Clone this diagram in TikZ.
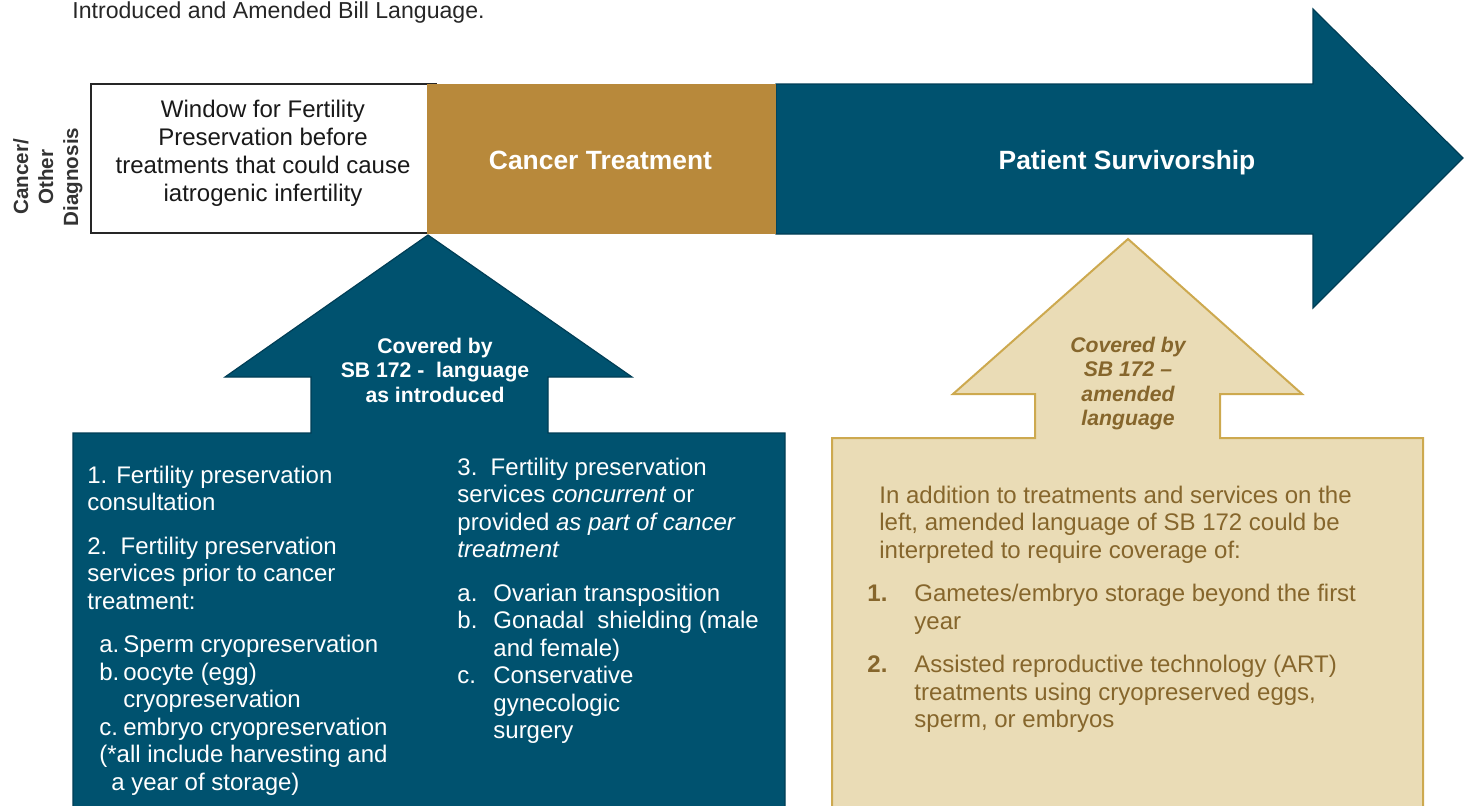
\documentclass[tikz,border=0pt]{standalone}
\usepackage{fontspec}
\setmainfont{Liberation Sans}
\usetikzlibrary{positioning}
\definecolor{sbteal}{HTML}{00526F}
\definecolor{sbtealdark}{HTML}{003E56}
\definecolor{sbgold}{HTML}{B8893B}
\definecolor{sbsand}{HTML}{EADCB6}
\definecolor{sbsandline}{HTML}{CDA94F}
\definecolor{sbbrown}{HTML}{86662C}
\tikzset{
  tealshape/.style = {fill=sbteal, draw=sbtealdark, line width=0.6pt},% arrows and box, left
  sandshape/.style = {fill=sbsand, draw=sbsandline, line width=1pt},% arrow and box, right
  phase/.style = {inner sep=0pt, anchor=base, white,
    font=\fontsize{13.2}{16}\selectfont\bfseries},
  covered/.style = {inner sep=0pt, anchor=base,
    font=\fontsize{10.6}{12.25}\selectfont\bfseries},
  bodytext/.style = {inner sep=0pt, anchor=base west,
    font=\fontsize{12}{13.75}\selectfont}
}
\newcommand{\lbl}[2]{\makebox[#1][l]{#2}}

\begin{document}
\begin{tikzpicture}[x=0.5pt, y=-0.5pt]
  \useasboundingbox (0,0) rectangle (1471,805);
  % time line
  \path[tealshape] (776,84) -- (1313,84) -- (1313,9) -- (1463,158) -- (1313,308)
    -- (1313,234) -- (776,234) -- cycle;
  \draw[line width=1pt, draw=black!85, fill=white] (91,84) rectangle (436,233);
  \fill[sbgold] (427,84) rectangle (776,234);
  % coverage arrows
  \path[tealshape] (428,235) -- (632,377) -- (548,377) -- (548,433) -- (785,433)
    -- (785,812) -- (73,812) -- (73,433) -- (311,433) -- (311,377) -- (225,377) -- cycle;
  \path[sandshape] (1128,239) -- (1302,394) -- (1220,394) -- (1220,438) -- (1423,438)
    -- (1423,812) -- (832,812) -- (832,438) -- (1035,438) -- (1035,394) -- (953,394) -- cycle;

  \node[bodytext, black!85, font=\fontsize{11.55}{14}\selectfont] (title) at (72,18)
    {Introduced and Amended Bill Language.};
  \node[inner sep=0pt, anchor=base, rotate=90, black!80,
    font=\fontsize{10.3}{12.5}\selectfont\bfseries] (diag) at (28,177)
    {\parbox[t]{70pt}{\centering Cancer/\\ Other\\ Diagnosis}};
  \node[inner sep=0pt, anchor=base, black!90, font=\fontsize{12}{14}\selectfont] (window) at (263,117)
    {\parbox[t]{168pt}{\centering Window for Fertility\\ Preservation before\\
      treatments that could cause\\ iatrogenic infertility}};
  \node[phase] (treat) at (600.5,169) {Cancer Treatment};
  \node[phase] (surv) at (1127,169) {Patient Survivorship};

  \node[covered, white] (introduced) at (435,353)
    {\parbox[t]{110pt}{\centering Covered by\\ SB 172 -\ \ language\\ as introduced}};
  \node[covered, sbbrown, font=\fontsize{10.6}{12.25}\selectfont\bfseries\itshape] (amended) at (1128,352)
    {\parbox[t]{90pt}{\centering Covered by\\ SB 172 --\\ amended\\ language}};

  \node[bodytext, white] (prior) at (87,483) {\parbox[t]{175pt}{%
    1. Fertility preservation\\
    consultation\\[8pt]
    2.\ \ Fertility preservation\\
    services prior to cancer\\
    treatment:\\[8pt]
    \hspace*{6pt}\lbl{12pt}{a.}Sperm cryopreservation\\
    \hspace*{6pt}\lbl{12pt}{b.}oocyte (egg)\\
    \hspace*{18pt}cryopreservation\\
    \hspace*{6pt}\lbl{12pt}{c.}embryo cryopreservation\\
    \hspace*{6pt}(*all include harvesting and\\
    \hspace*{12pt}a year of storage)}};
  \node[bodytext, white] (concurrent) at (457,475) {\parbox[t]{165pt}{%
    3.\ \ Fertility preservation\\
    services \textit{concurrent} or\\
    provided \textit{as part of cancer}\\
    \textit{treatment}\\[8pt]
    \lbl{18pt}{a.}Ovarian transposition\\
    \lbl{18pt}{b.}Gonadal\ \ shielding (male\\
    \hspace*{18pt}and female)\\
    \lbl{18pt}{c.}Conservative\\
    \hspace*{18pt}gynecologic\\
    \hspace*{18pt}surgery}};
  \node[bodytext, sbbrown] (beyond) at (867,503) {\parbox[t]{270pt}{%
    \hspace*{6pt}In addition to treatments and services on the\\
    \hspace*{6pt}left, amended language of SB 172 could be\\
    \hspace*{6pt}interpreted to require coverage of:\\[8pt]
    \lbl{23.5pt}{\textbf{1.}}Gametes/embryo storage beyond the first\\
    \hspace*{23.5pt}year\\[8pt]
    \lbl{23.5pt}{\textbf{2.}}Assisted reproductive technology (ART)\\
    \hspace*{23.5pt}treatments using cryopreserved eggs,\\
    \hspace*{23.5pt}sperm, or embryos}};
\end{tikzpicture}
\end{document}
